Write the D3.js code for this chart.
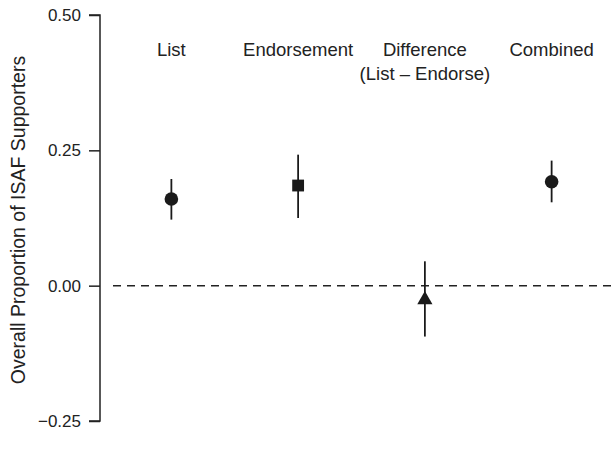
<!DOCTYPE html>
<html><head><meta charset="utf-8">
<script src="https://cdn.jsdelivr.net/npm/d3@7"></script>
<style>body{margin:0;background:#fff}svg{display:block}text{font-family:"Liberation Sans",Arial,Helvetica,sans-serif;fill:#222}</style>
</head><body>
<script>
const categories = ["List", "Endorsement", "Difference", "Combined"];
const labelLines = [["List"], ["Endorsement"], ["Difference", "(List \u2013 Endorse)"], ["Combined"]];
const estimates = [0.160, 0.185, -0.026, 0.192];
const lower = [0.122, 0.125, -0.094, 0.154];
const upper = [0.197, 0.242, 0.045, 0.231];
const shapes = ["circle", "square", "triangle", "circle"];
const yTicks = [-0.25, 0, 0.25, 0.5];
const yTitle = "Overall Proportion of ISAF Supporters";

const W = 615, H = 451;
const svg = d3.select("body").append("svg").attr("width", W).attr("height", H);

const y = d3.scaleLinear().domain([-0.25, 0.5]).range([421, 15]);
const x = d3.scalePoint().domain(categories).range([108, 615]).padding(0.5);

// axis
const axis = d3.axisLeft(y).tickValues(yTicks).tickSize(11).tickPadding(8)
  .tickFormat(d => d3.format(".2f")(d).replace("-", "\u2212"));
const g = svg.append("g").attr("transform", "translate(100,0)").call(axis);
g.select(".domain").attr("stroke", "#222").attr("stroke-width", 1.5).attr("d", `M-11,${y(0.5)}H0V${y(-0.25)}H-11`);
g.selectAll(".tick line").attr("stroke", "#222").attr("stroke-width", 1.5);
g.selectAll(".tick text").attr("font-size", 17).attr("fill", "#222")
  .attr("font-family", '"Liberation Sans",Arial,sans-serif');

// y title
svg.append("text").attr("transform", `translate(25,${220}) rotate(-90)`)
  .attr("text-anchor", "middle").attr("font-size", 19.5).text(yTitle);

// zero line
svg.append("line").attr("x1", 113).attr("x2", W).attr("y1", y(0)).attr("y2", y(0))
  .attr("stroke", "#222").attr("stroke-width", 1.5).attr("stroke-dasharray", "8,6");

// category labels
categories.forEach((c, i) => {
  const t = svg.append("text").attr("x", x(c)).attr("y", 56).attr("text-anchor", "middle").attr("font-size", 18.5);
  labelLines[i].forEach((ln, j) => {
    t.append("tspan").attr("x", x(c)).attr("dy", j === 0 ? 0 : 24).text(ln);
  });
});

// error bars
svg.selectAll("line.ci").data(categories).join("line").attr("class", "ci")
  .attr("x1", d => x(d)).attr("x2", d => x(d))
  .attr("y1", (d, i) => y(upper[i])).attr("y2", (d, i) => y(lower[i]))
  .attr("stroke", "#1a1a1a").attr("stroke-width", 1.8);

// markers
const symType = {circle: d3.symbolCircle, square: d3.symbolSquare, triangle: d3.symbolTriangle};
const symSize = {circle: 145, square: 140, triangle: 100};
svg.selectAll("path.pt").data(categories).join("path").attr("class", "pt")
  .attr("transform", (d, i) => `translate(${x(d)},${y(estimates[i])})`)
  .attr("d", (d, i) => d3.symbol().type(symType[shapes[i]]).size(symSize[shapes[i]])())
  .attr("fill", "#1a1a1a");
</script>
</body></html>
